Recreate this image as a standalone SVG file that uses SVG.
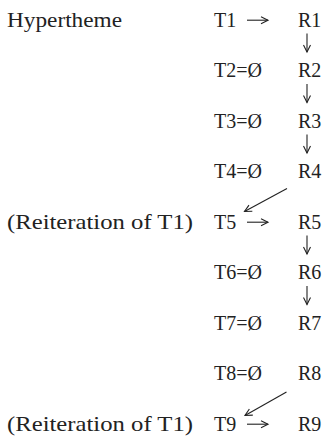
<svg xmlns="http://www.w3.org/2000/svg" width="322" height="440" viewBox="0 0 322 440">
  <defs>
    <style>
      .t { font-family: "Liberation Serif", "Times New Roman", serif; font-size: 20px; fill: #222222; }
      .l { font-family: "Liberation Serif", "Times New Roman", serif; font-size: 21px; fill: #222222; }
      .c { stroke: #222222; stroke-width: 1.1; fill: none; }
    </style>
    <marker id="ah" markerWidth="10" markerHeight="10" refX="8" refY="5" orient="auto" markerUnits="userSpaceOnUse">
      <path d="M1,1.5 L8,5 L1,8.5" fill="none" stroke="#222222" stroke-width="1.1"/>
    </marker>
  </defs>
  <rect width="322" height="440" fill="#ffffff"/>
  <g id="labels">
    <text class="l" x="7" y="26.5" textLength="115" lengthAdjust="spacingAndGlyphs">Hypertheme</text>
    <text class="l" x="7" y="228.5" textLength="186" lengthAdjust="spacingAndGlyphs">(Reiteration of T1)</text>
    <text class="l" x="7" y="430.5" textLength="186" lengthAdjust="spacingAndGlyphs">(Reiteration of T1)</text>
  </g>
  <g id="T1"><text class="t" x="214" y="26.5">T1</text></g>
  <g id="T2"><text class="t" x="214" y="77">T2=Ø</text></g>
  <g id="T3"><text class="t" x="214" y="127.5">T3=Ø</text></g>
  <g id="T4"><text class="t" x="214" y="178">T4=Ø</text></g>
  <g id="T5"><text class="t" x="214" y="228.5">T5</text></g>
  <g id="T6"><text class="t" x="214" y="279">T6=Ø</text></g>
  <g id="T7"><text class="t" x="214" y="329.5">T7=Ø</text></g>
  <g id="T8"><text class="t" x="214" y="380">T8=Ø</text></g>
  <g id="T9"><text class="t" x="214" y="430.5">T9</text></g>
  <g id="R1"><text class="t" x="298" y="26.5">R1</text></g>
  <g id="R2"><text class="t" x="298" y="77">R2</text></g>
  <g id="R3"><text class="t" x="298" y="127.5">R3</text></g>
  <g id="R4"><text class="t" x="298" y="178">R4</text></g>
  <g id="R5"><text class="t" x="298" y="228.5">R5</text></g>
  <g id="R6"><text class="t" x="298" y="279">R6</text></g>
  <g id="R7"><text class="t" x="298" y="329.5">R7</text></g>
  <g id="R8"><text class="t" x="298" y="380">R8</text></g>
  <g id="R9"><text class="t" x="298" y="430.5">R9</text></g>
  <g id="connectors">
    <line class="c" x1="247" y1="20.2" x2="268" y2="20.2" marker-end="url(#ah)"/>
    <line class="c" x1="307" y1="33.5" x2="307" y2="52" marker-end="url(#ah)"/>
    <line class="c" x1="307" y1="84" x2="307" y2="102.5" marker-end="url(#ah)"/>
    <line class="c" x1="307" y1="134.5" x2="307" y2="153" marker-end="url(#ah)"/>
    <line class="c" x1="287" y1="188.5" x2="244.5" y2="211.5" marker-end="url(#ah)"/>
    <line class="c" x1="247" y1="222.2" x2="268" y2="222.2" marker-end="url(#ah)"/>
    <line class="c" x1="307" y1="235.5" x2="307" y2="254" marker-end="url(#ah)"/>
    <line class="c" x1="307" y1="286" x2="307" y2="304.5" marker-end="url(#ah)"/>
    <line class="c" x1="286.5" y1="392" x2="245" y2="415.5" marker-end="url(#ah)"/>
    <line class="c" x1="247" y1="424.2" x2="268" y2="424.2" marker-end="url(#ah)"/>
  </g>
</svg>
